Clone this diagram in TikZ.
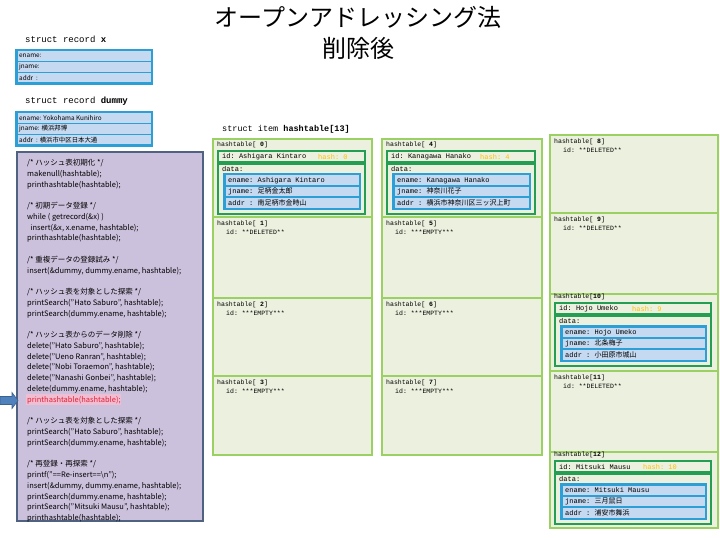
\documentclass[tikz,border=0pt]{standalone}
\usepackage{fontspec}
\setmainfont{Noto Sans CJK JP}
\setmonofont{Liberation Mono}
\newfontfamily\jp{Noto Sans CJK JP}
\newcommand{\J}[1]{{\jp #1}}
\definecolor{cellfill}{RGB}{235,241,222}
\definecolor{cellborder}{RGB}{155,208,98}
\definecolor{dkgreen}{RGB}{36,158,82}
\definecolor{blueborder}{RGB}{44,160,214}
\definecolor{bluefill}{RGB}{197,217,241}
\definecolor{hashcol}{RGB}{255,192,0}
\definecolor{codefill}{RGB}{204,193,220}
\definecolor{codeborder}{RGB}{80,98,130}
\definecolor{arrowblue}{RGB}{79,129,189}
\definecolor{codered}{RGB}{230,30,50}
\definecolor{codepink}{RGB}{240,190,210}

% empty cell: L T W H idxlabel name idtext
\newcommand{\emptycell}[7]{%
  \draw[cell] (#1,#2) rectangle ++(#3,#4);
  \node[lbl] (lbl#6) at ({#1+4},{#2+6.5}) {hashtable[#5]};
  \node[lbl] (id#6) at ({#1+13},{#2+15.5}) {id: #7};
}
% full cell: L T W H C idxlabel name idtext
\newcommand{\fullcell}[8]{%
  \draw[cell] (#1,#2) rectangle ++(#3,#4);
  \node[lbl] (lbl#7) at ({#1+4},{#5}) {hashtable[#6]};
  \draw[dk] ({#1+5},{#5+6}) rectangle ({#1+#3-7},{#5+17.5});
  \node[celltxt] (id#7) at ({#1+9},{#5+11.75}) {id: #8};
  \draw[dk] ({#1+5},{#5+18.5}) rectangle ({#1+#3-7},{#5+69});
  \node[celltxt] (dl#7) at ({#1+9},{#5+24}) {data:};
}
% data rows: L W C name ename jname addr
\newcommand{\datarows}[7]{%
  \fill[blueborder] ({#1+10},{#3+28}) rectangle ({#1+#2-11},{#3+65});
  \fill[bluefill] ({#1+12.5},{#3+30.5}) rectangle ({#1+#2-13.5},{#3+40.2});
  \fill[bluefill] ({#1+12.5},{#3+41.7}) rectangle ({#1+#2-13.5},{#3+51.4});
  \fill[bluefill] ({#1+12.5},{#3+52.9}) rectangle ({#1+#2-13.5},{#3+62.6});
  \node[celltxt] (en#4) at ({#1+15},{#3+35.35}) {ename: #5};
  \node[celltxt] (jn#4) at ({#1+15},{#3+46.55}) {jname: #6};
  \node[celltxt] (ad#4) at ({#1+15},{#3+57.75}) {addr : #7};
}
% record box: T name ename jname addr
\newcommand{\recbox}[5]{%
  \fill[blueborder] (15,#1) rectangle (153,{#1+36});
  \fill[bluefill] (17.5,{#1+2.5}) rectangle (150.5,{#1+11.7});
  \fill[bluefill] (17.5,{#1+13.4}) rectangle (150.5,{#1+22.6});
  \fill[bluefill] (17.5,{#1+24.3}) rectangle (150.5,{#1+33.5});
  \node[rectxt] (ren#2) at (19,{#1+7.1}) {ename: #3};
  \node[rectxt] (rjn#2) at (19,{#1+18}) {jname: #4};
  \node[rectxt] (rad#2) at (19,{#1+28.9}) {addr\ \ : #5};
}

\begin{document}
\begin{tikzpicture}[x=1pt,y=-1pt,
  cell/.style={fill=cellfill, draw=cellborder, line width=2.6pt},
  dk/.style={fill=cellfill, draw=dkgreen, line width=2.4pt},
  lbl/.style={font=\ttfamily\fontsize{6.5}{7}\selectfont, anchor=west, inner sep=0},
  celltxt/.style={font=\ttfamily\fontsize{7}{8}\selectfont, anchor=west, inner sep=0},
  rectxt/.style={font=\fontsize{6.4}{7}\selectfont, anchor=west, inner sep=0},
  head/.style={font=\ttfamily\fontsize{9}{10}\selectfont, anchor=west, inner sep=0},
  hashlbl/.style={celltxt, text=hashcol}]
\useasboundingbox[fill=white] (0,0) rectangle (720,540);

% title
\node[font=\fontsize{24}{31}\selectfont, align=center, inner sep=0] (title) at (358,33) {オープンアドレッシング法\\削除後};

% records
\node[head] (srx) at (25,39) {struct record \textbf{x}};
\recbox{49}{x}{}{}{}
\node[head] (srd) at (25,101) {struct record \textbf{dummy}};
\recbox{111}{d}{Yokohama Kunihiro}{横浜邦博}{横浜市中区日本大通}

% code box
\draw[fill=codefill, draw=codeborder, line width=1.8pt] (17,152) rectangle (203,521);
\fill[codepink] (25.5,394) rectangle (121,405);
\node[anchor=north west, align=left, inner sep=0, text=black,
      font=\fontsize{7.5}{10.76}\selectfont] (code) at (27,159) {%
/* ハッシュ表初期化 */\\
makenull(hashtable);\\
printhashtable(hashtable);\\[10.76pt]
/* 初期データ登録 */\\
while ( getrecord(\&x) )\\
\ \ insert(\&x, x.ename, hashtable);\\
printhashtable(hashtable);\\[10.76pt]
/* 重複データの登録試み */\\
insert(\&dummy, dummy.ename, hashtable);\\[10.76pt]
/* ハッシュ表を対象とした探索 */\\
printSearch("Hato Saburo", hashtable);\\
printSearch(dummy.ename, hashtable);\\[10.76pt]
/* ハッシュ表からのデータ削除 */\\
delete("Hato Saburo", hashtable);\\
delete("Ueno Ranran", hashtable);\\
delete("Nobi Toraemon", hashtable);\\
delete("Nanashi Gonbei", hashtable);\\
delete(dummy.ename, hashtable);\\
\textcolor{codered}{printhashtable(hashtable);}\\[10.76pt]
/* ハッシュ表を対象とした探索 */\\
printSearch("Hato Saburo", hashtable);\\
printSearch(dummy.ename, hashtable);\\[10.76pt]
/* 再登録・再探索 */\\
printf("==Re-insert==\textbackslash n");\\
insert(\&dummy, dummy.ename, hashtable);\\
printSearch(dummy.ename, hashtable);\\
printSearch("Mitsuki Mausu", hashtable);\\
printhashtable(hashtable);};

% pointer arrow
\filldraw[fill=arrowblue, draw=arrowblue!75!black, line width=0.6pt]
  (0,396.5) -- (12,396.5) -- (12,392.5) -- (18,400.5) -- (12,408.5) -- (12,404.5) -- (0,404.5) -- cycle;

% hashtable header
\node[head, font=\ttfamily\fontsize{8.5}{10}\selectfont] (sih) at (222,129) {struct item \textbf{hashtable[13]}};

% column 1
\fullcell{213}{139}{159}{78}{145}{ \textbf{0}}{0}{Ashigara Kintaro}
\node[hashlbl] (h0) at (318,156.75) {hash: 0};
\datarows{213}{159}{145}{0}{Ashigara Kintaro}{\J{足柄金太郎}}{\J{南足柄市金時山}}
\emptycell{213}{217}{159}{81}{ \textbf{1}}{1}{**DELETED**}
\emptycell{213}{298}{159}{78}{ \textbf{2}}{2}{***EMPTY***}
\emptycell{213}{376}{159}{79}{ \textbf{3}}{3}{***EMPTY***}

% column 2
\fullcell{382}{139}{160}{78}{145}{ \textbf{4}}{4}{Kanagawa Hanako}
\node[hashlbl] (h4) at (480,156.75) {hash: 4};
\datarows{382}{160}{145}{4}{Kanagawa Hanako}{\J{神奈川花子}}{\J{横浜市神奈川区三ッ沢上町}}
\emptycell{382}{217}{160}{81}{ \textbf{5}}{5}{***EMPTY***}
\emptycell{382}{298}{160}{78}{ \textbf{6}}{6}{***EMPTY***}
\emptycell{382}{376}{160}{79}{ \textbf{7}}{7}{***EMPTY***}

% column 3
\emptycell{550}{135}{168}{78}{ \textbf{8}}{8}{**DELETED**}
\emptycell{550}{213}{168}{81}{ \textbf{9}}{9}{**DELETED**}
\fullcell{550}{294}{168}{77}{297}{\textbf{10}}{10}{Hojo Umeko}
\node[hashlbl] (h10) at (632,308.75) {hash: 9};
\datarows{550}{168}{297}{10}{Hojo Umeko}{\J{北条梅子}}{\J{小田原市城山}}
\emptycell{550}{371}{168}{81}{\textbf{11}}{11}{**DELETED**}
\fullcell{550}{452}{168}{76}{455}{\textbf{12}}{12}{Mitsuki Mausu}
\node[hashlbl] (h12) at (643,466.75) {hash: 10};
\datarows{550}{168}{455}{12}{Mitsuki Mausu}{\J{三月鼠日}}{\J{浦安市舞浜}}
\end{tikzpicture}
\end{document}
